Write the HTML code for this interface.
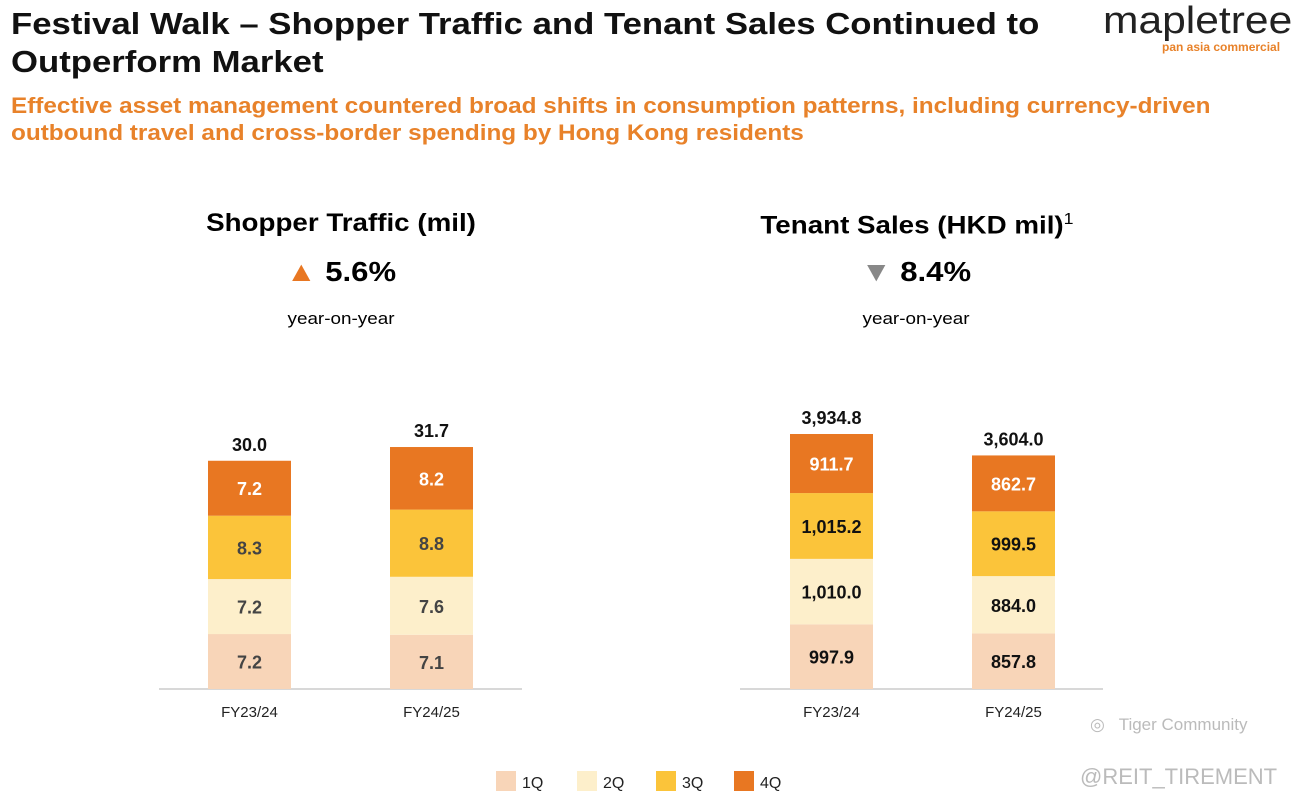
<!DOCTYPE html>
<html><head><meta charset="utf-8"><style>
body{margin:0;width:1297px;height:807px;background:#fff;font-family:"Liberation Sans",Arial,sans-serif;position:relative;overflow:hidden}
.a{position:absolute}
.sl{transform:scaleX(1.12);transform-origin:left top}
.sc{transform:scaleX(1.11);transform-origin:center top}
</style></head><body>
<div class="a sl" style="left:11px;top:5px;font-size:31px;font-weight:bold;line-height:38px;color:#111;white-space:nowrap">Festival Walk – Shopper Traffic and Tenant Sales Continued to<br>Outperform Market</div>
<div class="a sl" style="left:11px;top:92px;font-size:22px;font-weight:bold;line-height:27px;color:#E8822A;white-space:nowrap;transform:scaleX(1.105)">Effective asset management countered broad shifts in consumption patterns, including currency-driven<br>outbound travel and cross-border spending by Hong Kong residents</div>
<div class="a sl" style="left:1103px;top:0px;font-size:38px;color:#222">mapletree</div>
<div class="a" style="left:1162px;top:40px;font-size:12px;font-weight:bold;color:#E8822A">pan asia commercial</div>

<div class="a sc" style="left:160px;width:362px;text-align:center;top:209px;font-size:25px;font-weight:bold">Shopper Traffic (mil)</div>
<div class="a sc" style="left:160px;width:362px;text-align:center;top:256px;font-size:28px;font-weight:bold"><span style="color:#E87722">▲</span> 5.6%</div>
<div class="a sc" style="left:160px;width:362px;text-align:center;top:309px;font-size:17px">year-on-year</div>

<div class="a sc" style="left:736px;width:362px;text-align:center;top:211px;font-size:25px;font-weight:bold">Tenant Sales (HKD mil)<sup style="font-weight:normal;font-size:16px">1</sup></div>
<div class="a sc" style="left:735px;width:362px;text-align:center;top:256px;font-size:28px;font-weight:bold"><span style="color:#888">▼</span> 8.4%</div>
<div class="a sc" style="left:735px;width:362px;text-align:center;top:309px;font-size:17px">year-on-year</div>

<svg class="a" style="left:0;top:0" width="1297" height="807" id="svg"></svg>

<div class="a" style="left:1090px;top:715px;font-size:17px;color:#bbb">◎&nbsp;&nbsp; Tiger Community</div>
<div class="a" style="left:1080px;top:764px;font-size:22px;color:#bbb">@REIT_TIREMENT</div>

<script>
const categories=["FY23/24","FY24/25"];
const quarters=["1Q","2Q","3Q","4Q"];
const trafficValues=[[7.2,7.2,8.3,7.2],[7.1,7.6,8.8,8.2]];
const trafficTotals=["30.0","31.7"];
const salesValues=[[997.9,1010.0,1015.2,911.7],[857.8,884.0,999.5,862.7]];
const salesTotals=["3,934.8","3,604.0"];
const colors=["#F8D5B8","#FDEFCB","#FBC43A","#E87722"];
const NS="http://www.w3.org/2000/svg";
const svg=document.getElementById('svg');
function mk(t,a){const e=document.createElementNS(NS,t);for(const k in a)e.setAttribute(k,a[k]);svg.appendChild(e);return e;}
function chart(vals,totals,x0,x1,barX,scale,fmt,dark,name){
  const base=689;
  const ax=mk('line',{x1:x0,x2:x1,y1:base,y2:base,stroke:'#ccc','stroke-width':1.5});
  
  
  vals.forEach((s,i)=>{
    let y=base;const bx=barX[i];
    s.forEach((v,q)=>{
      const h=v*scale;y-=h;
      const r=mk('rect',{x:bx,y:y,width:83,height:h,fill:colors[q]});
      
      
      const t=mk('text',{x:bx+41.5,y:y+h/2+7,'text-anchor':'middle','font-size':18,'font-weight':'bold',fill:q==3?'#fff':dark});
      t.textContent=fmt(v);
      
      
    });
    const tt=mk('text',{x:bx+41.5,y:y-10,'text-anchor':'middle','font-size':18,'font-weight':'bold',fill:'#111'});
    tt.textContent=totals[i];
    
    
    const c=mk('text',{x:bx+41.5,y:717,'text-anchor':'middle','font-size':15,fill:'#222'});
    c.textContent=categories[i];
    
    
  });
}
chart(trafficValues,trafficTotals,159,522,[208,390],229/30,v=>v.toFixed(1),'#444','traffic');
chart(salesValues,salesTotals,740,1103,[790,972],255/3934.8,v=>v.toLocaleString('en-US',{minimumFractionDigits:1,maximumFractionDigits:1}),'#111','sales');
const lx=[496,577,656,734];
quarters.forEach((q,i)=>{
  const r=mk('rect',{x:lx[i],y:771,width:20,height:20,fill:colors[i]});
  
  
  const t=mk('text',{x:lx[i]+26,y:788,'font-size':16,fill:'#222'});
  t.textContent=q;
  
  
});
</script>
</body></html>
